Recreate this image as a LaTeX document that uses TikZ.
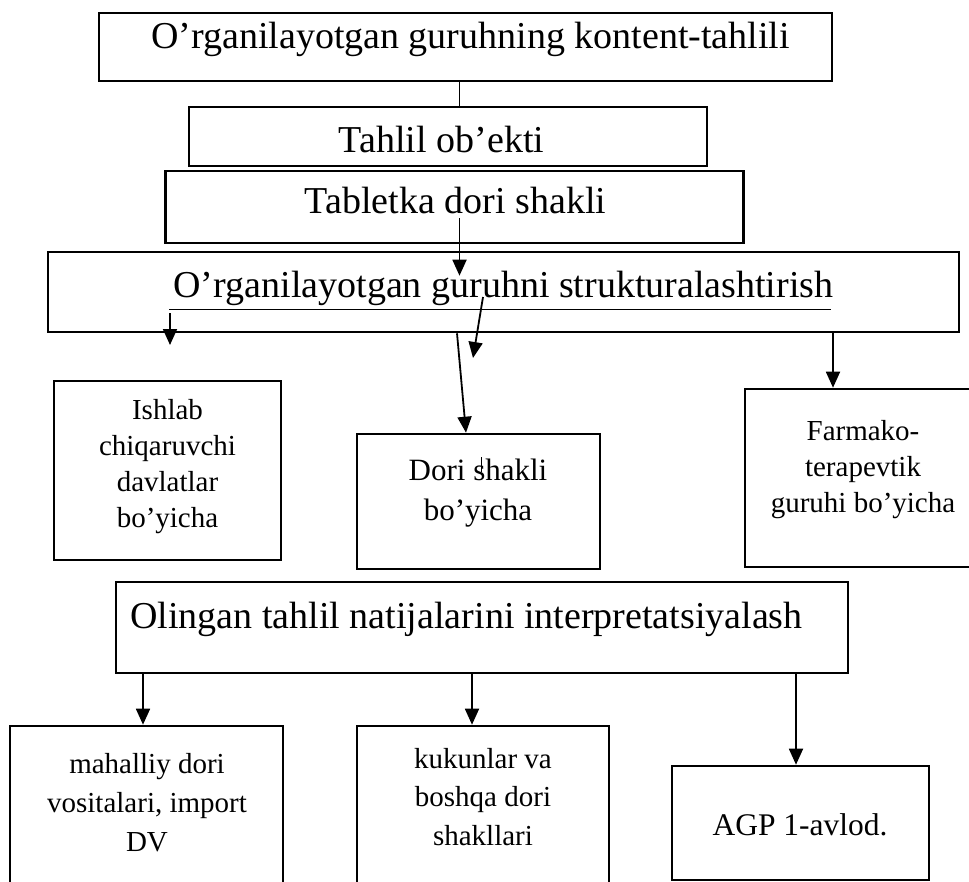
\documentclass[tikz,border=0pt]{standalone}
\usepackage{fontspec}
\setmainfont{Liberation Serif}
\usetikzlibrary{arrows.meta,calc}
\tikzset{
    box/.style={draw, line width=2.6pt, inner sep=0pt},
    bigtext/.style={font=\fontsize{38}{44}\selectfont, inner sep=0pt, anchor=base},
    smalltext/.style={font=\fontsize{29}{#1}\selectfont, align=center, inner sep=0pt, anchor=north},
    smalltext/.default=37,
    arr/.style={line width=1.8pt, -{Triangle[length=16pt,width=14pt]}}
}

\begin{document}
\begin{tikzpicture}[x=1pt, y=-1pt]
    \clip (0,0) rectangle (969,881);

    % Upper chain
    \node[box, minimum width=733pt, minimum height=68pt] (top) at (465.5,47) {};
    \node[box, minimum width=518pt, minimum height=59pt] (obj) at (448,136.5) {};
    \node[box, minimum width=578pt, minimum height=72pt] (tab) at (454.5,207) {};
    \node[box, minimum width=911pt, minimum height=80pt] (str) at (503.5,292) {};

    \node[bigtext] (top-t) at (470.5,48) {O’rganilayotgan guruhning kontent-tahlili};
    \node[bigtext] (obj-t) at (441.5,152) {Tahlil ob’ekti};
    \node[bigtext] (tab-t) at (455.5,213) {Tabletka dori shakli};
    \node[bigtext] (str-t) at (503.5,297) {O’rganilayotgan guruhni strukturalashtirish};

    \draw[line width=1.8pt] ([xshift=-6pt]top.south) -- ([xshift=-6pt]top.south |- obj.north);
    \draw[arr] ($(tab.center)+(5,11)$) -- ($(tab.center |- str.north)+(5,25)$);
    \draw[line width=0.8pt] ($(str.center)+(-334.5,17)$) -- ($(str.center)+(327.5,17)$);

    % Structuring boxes
    \node[box, minimum width=227pt, minimum height=179pt] (ish) at (167.5,470.5) {};
    \node[box, minimum width=243pt, minimum height=135pt] (dori) at (478.5,501.5) {};
    \node[box, minimum width=236pt, minimum height=178pt] (farm) at (863,478) {};

    \node[smalltext=36] (ish-t) at (167.5,399) {Ishlab\\chiqaruvchi\\davlatlar\\bo’yicha};
    \node[smalltext, font=\fontsize{31}{40}\selectfont] (dori-t) at (478,459) {Dori shakli\\bo’yicha};
    \node[smalltext=36] (farm-t) at (863,420) {Farmako-\\terapevtik\\guruhi bo’yicha};

    \draw[arr] ($(str.center)+(-333.5,21)$) -- ($(str.center)+(-333.5,53)$);
    \draw[arr] ($(str.center)+(-20.5,5)$) -- ($(str.center)+(-30.5,66)$);
    \draw[arr] ($(str.south)+(-46.5,0)$) -- ($(dori.north)+(-12.5,0)$);
    \draw[arr] ($(str.south)+(329.5,0)$) -- ($(farm.north)+(-30,0)$);
    \draw[line width=0.8pt] ($(dori.center)+(2.5,-44.5)$) -- ($(dori.center)+(2.5,-29.5)$);

    % Interpretation
    \node[box, minimum width=732pt, minimum height=91pt] (int) at (482,627.5) {};
    \node[bigtext] (int-t) at (466.5,628) {Olingan tahlil natijalarini interpretatsiyalash};

    \node[box, minimum width=273pt, minimum height=174pt] (mah) at (146.5,813) {};
    \node[box, minimum width=252pt, minimum height=174pt] (kuk) at (483,813) {};
    \node[box, minimum width=257pt, minimum height=114pt] (agp) at (800.5,823) {};

    \node[smalltext=39] (mah-t) at (147,753) {mahalliy dori\\vositalari, import\\DV};
    \node[smalltext=38.5] (kuk-t) at (483,748) {kukunlar va\\boshqa dori\\shakllari};
    \node[bigtext, font=\fontsize{31.5}{38}\selectfont] (agp-t) at (800,835) {AGP 1-avlod.};

    \draw[arr] ($(int.south)+(-339,0)$) -- ($(mah.north)+(-3.5,0)$);
    \draw[arr] ($(int.south)+(-10,0)$) -- ($(kuk.north)+(-11,0)$);
    \draw[arr] ($(int.south)+(314,0)$) -- ($(agp.north)+(-4.5,0)$);
\end{tikzpicture}
\end{document}
